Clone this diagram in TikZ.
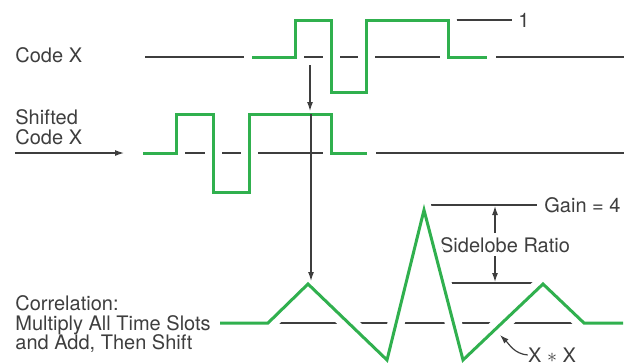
\documentclass[tikz,border=0pt]{standalone}
\usepackage{fontspec}
\setmainfont{TeX Gyre Heros}
\usepackage{amsmath}
\usepackage{tikz}
\usetikzlibrary{arrows.meta}
\definecolor{codegreen}{RGB}{48,176,78}
\definecolor{inkgray}{RGB}{62,62,62}

\begin{document}
\begin{tikzpicture}[x=0.5pt,y=-0.5pt]
\tikzset{txt/.style = {inner sep=0pt, text=inkgray, font=\fontsize{10}{9.9}\selectfont}}
\tikzset{axis/.style = {draw=inkgray, line width=0.6pt}}
\tikzset{wave/.style = {draw=codegreen, line width=1.5pt, line join=miter,
  preaction={draw=white, line width=8.5pt, line cap=rect, line join=round}}}
\tikzset{edge/.style = {draw=inkgray, line width=0.6pt, ->, > = {Latex[length=4.5pt,width=3pt]}}}

\useasboundingbox (0,0) rectangle (627,364);

\node[txt, anchor=base west] (codex) at (15,62) {Code X};
\node[txt, anchor=west, align=left] (shifted) at (15,127) {Shifted\\Code X};
\node[txt, anchor=west, align=left] (corr) at (15,324) {Correlation:\\Multiply All Time Slots\\and Add, Then Shift};
\node[txt, anchor=west] (one) at (518,20) {1};
\node[txt, anchor=west] (gain) at (544,205) {Gain = 4};
\node[txt] (ratio) at (505,245) {Sidelobe Ratio};
\node[txt] (conv) at (552,355) {X $\ast$ X};

\coordinate (onetick) at (456,20);
\coordinate (peak) at (431,205);
\coordinate (side) at (450,283);
\coordinate (sideend) at (537,283);
\coordinate (shiftin) at (15,153);
\coordinate (shiftinend) at (124,153);
\coordinate (codeslot) at (310,65);
\coordinate (shiftslot) at (310,111);
\coordinate (shifttop) at (311,114);
\coordinate (corrpeak) at (311,281);
\coordinate (upbase) at (495,233);
\coordinate (uptip) at (495,206);
\coordinate (downbase) at (495,256);
\coordinate (downtip) at (495,282);
\coordinate (xtip) at (500,335);

% time axes
\draw[axis] (145,57) -- (624,57);
\draw[axis] (143,153) -- (624,153);
\draw[axis] (220,323) -- (620,323);
\draw[axis, shorten >=3pt] (onetick) -- (one.west);
\draw[axis, shorten >=3.5pt] (peak) -- (gain.west);
\draw[axis] (side) -- (sideend);

% code, shifted code, correlation
\draw[wave] (252,57) -- (295,57) -- (295,20) -- (331,20) -- (331,92) -- (366,92)
  -- (366,20) -- (448,20) -- (448,57) -- (487,57);
\draw[wave] (143,153) -- (176,153) -- (176,114) -- (213,114) -- (213,192) -- (249,192)
  -- (249,114) -- (331,114) -- (331,153) -- (367,153);
\draw[wave] (220,323) -- (268,323) -- (308,284) -- (387,360) -- (424,210) -- (463,360)
  -- (543,284) -- (584,323) -- (623,323);

\draw[edge] (shiftin) to (shiftinend);
\draw[edge] (codeslot) to (shiftslot);
\draw[edge] (shifttop) to (corrpeak);
\draw[edge] (upbase) to (uptip);
\draw[edge] (downbase) to (downtip);
\draw[edge] (conv.west) to[out=175, in=-45] (xtip);

\end{tikzpicture}
\end{document}
